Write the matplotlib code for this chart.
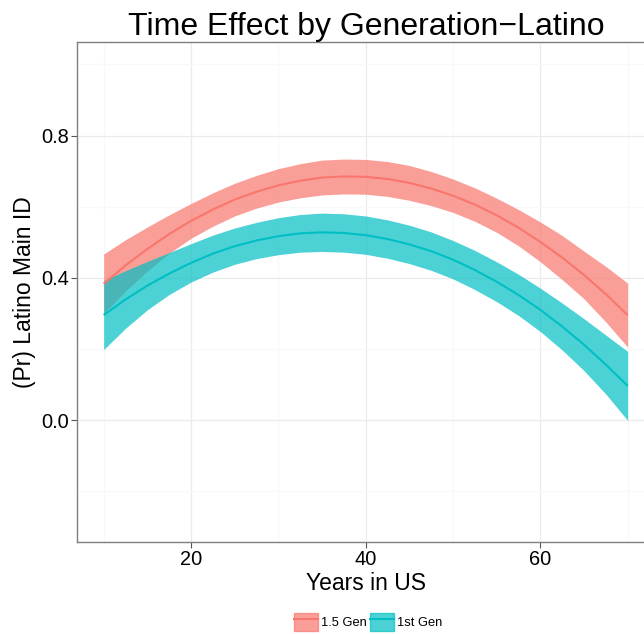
import numpy as np
import matplotlib
matplotlib.use("Agg")
import matplotlib.pyplot as plt
from matplotlib.patches import Patch
from matplotlib.lines import Line2D

plt.rcParams["font.family"] = ["Liberation Sans", "DejaVu Sans"]

# Data (predicted probability with CI)
years = [10, 12.5, 15, 17.5, 20, 22.5, 25, 27.5, 30, 32.5, 35, 37.5, 40,
         42.5, 45, 47.5, 50, 52.5, 55, 57.5, 60, 62.5, 65, 67.5, 70]

gen15_fit = [0.383, 0.435, 0.481, 0.523, 0.560, 0.592, 0.620, 0.642, 0.660, 0.673, 0.682, 0.685, 0.684,
             0.678, 0.667, 0.651, 0.631, 0.606, 0.576, 0.541, 0.501, 0.457, 0.408, 0.354, 0.295]
gen15_lo = [0.299, 0.363, 0.419, 0.469, 0.511, 0.545, 0.574, 0.596, 0.613, 0.625, 0.633, 0.636, 0.635,
            0.629, 0.618, 0.603, 0.584, 0.559, 0.528, 0.490, 0.445, 0.395, 0.341, 0.276, 0.205]
gen15_hi = [0.467, 0.507, 0.543, 0.577, 0.609, 0.639, 0.666, 0.688, 0.707, 0.721, 0.731, 0.734, 0.733,
            0.727, 0.716, 0.699, 0.678, 0.653, 0.624, 0.592, 0.557, 0.519, 0.475, 0.432, 0.385]

gen1_fit = [0.295, 0.339, 0.378, 0.412, 0.442, 0.468, 0.489, 0.505, 0.517, 0.525, 0.528, 0.526, 0.520,
            0.509, 0.494, 0.475, 0.451, 0.422, 0.389, 0.352, 0.310, 0.263, 0.212, 0.156, 0.096]
gen1_lo = [0.198, 0.258, 0.310, 0.353, 0.388, 0.416, 0.438, 0.454, 0.465, 0.472, 0.474, 0.472, 0.466,
           0.455, 0.440, 0.421, 0.397, 0.367, 0.333, 0.294, 0.249, 0.197, 0.139, 0.073, -0.001]
gen1_hi = [0.392, 0.420, 0.446, 0.471, 0.496, 0.520, 0.540, 0.556, 0.569, 0.578, 0.582, 0.580, 0.574,
           0.563, 0.548, 0.529, 0.505, 0.477, 0.445, 0.410, 0.371, 0.329, 0.285, 0.239, 0.193]

groups = ["1.5 Gen", "1st Gen"]
colors = ["#F8766D", "#00BFC4"]

fig = plt.figure(figsize=(6.44, 6.34), dpi=100)
# panel runs past the right edge, as in the (cropped) reference
ax = fig.add_axes([0.1203, 0.1457, 0.895, 0.7885])

series = [(gen15_fit, gen15_lo, gen15_hi), (gen1_fit, gen1_lo, gen1_hi)]
for (fit, lo, hi), col in zip(series, colors):
    ax.fill_between(years, lo, hi, color=col, alpha=0.7, linewidth=0, zorder=2)
    ax.plot(years, fit, color=col, lw=1.5, zorder=3, solid_capstyle="butt")

ax.set_xlim(7, 73)
ax.set_ylim(-0.342, 1.064)
ax.set_xticks([20, 40, 60])
ax.set_yticks([0.0, 0.4, 0.8])
ax.set_yticklabels(["0.0", "0.4", "0.8"])
ax.set_xticks([10, 30, 50, 70], minor=True)
ax.set_yticks([-0.2, 0.2, 0.6, 1.0], minor=True)
ax.grid(which="major", color="#EBEBEB", lw=0.9, zorder=0)
ax.grid(which="minor", color="#F8F8F8", lw=0.9, zorder=0)
ax.set_axisbelow(True)
ax.tick_params(which="major", length=4, width=0.8, color="#555555", labelsize=14.4, labelcolor="black", pad=2)
ax.tick_params(which="minor", length=0)
for s in ax.spines.values():
    s.set_color("#7F7F7F")
    s.set_linewidth(1.0)

ax.set_xlabel("Years in US", fontsize=16.5, labelpad=2)
ax.set_ylabel("(Pr) Latino Main ID", fontsize=16.5, labelpad=4)
fig.text(366 / 644, 1 - 27 / 634, "Time Effect by Generation\u2212Latino", fontsize=23,
         ha="center", va="center")

handles = [(Patch(facecolor=c, edgecolor=c, alpha=0.7), Line2D([], [], color=c, lw=1.5)) for c in colors]
fig.legend(handles, groups, loc="center", bbox_to_anchor=(368 / 644, 1 - 622 / 634), ncol=2,
           frameon=False, fontsize=9.3, handlelength=1.86, handleheight=1.86,
           handletextpad=0.25, columnspacing=0.25, borderpad=0, borderaxespad=0)

fig.savefig("out.png", dpi=100)
